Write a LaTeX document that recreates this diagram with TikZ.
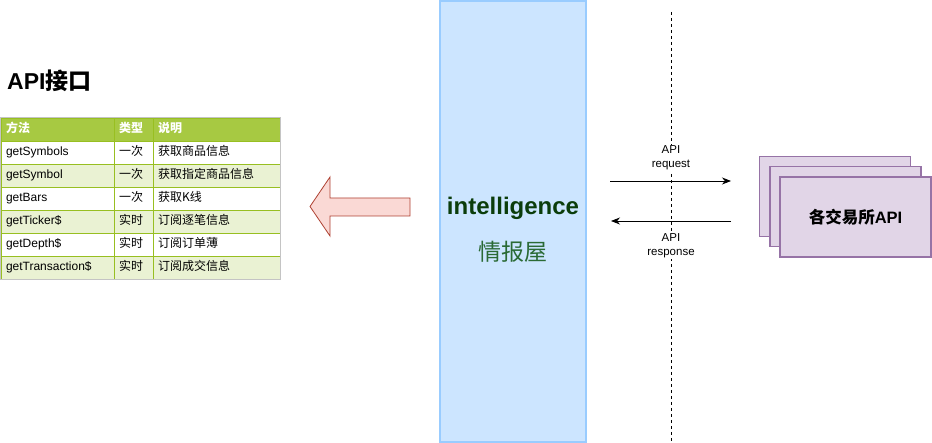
\documentclass[tikz,border=0pt]{standalone}
\usepackage{fontspec}
\setmainfont{Liberation Sans}
\newfontfamily\cjk{Noto Sans CJK SC}
\usepackage{tikz}
\usetikzlibrary{arrows.meta, positioning}

\definecolor{tabgreen}{HTML}{A7C942}
\definecolor{tabline}{HTML}{98BF21}
\definecolor{rowgreen}{HTML}{EAF2D3}
\definecolor{tabframe}{HTML}{C4C4C4}
\definecolor{arrowfill}{HTML}{FAD9D5}
\definecolor{arrowline}{HTML}{AE4132}
\definecolor{intelfill}{HTML}{CCE5FF}
\definecolor{intelline}{HTML}{99CCFF}
\definecolor{intelgreen}{HTML}{0B3D0B}
\definecolor{intelcn}{HTML}{2A6A35}
\definecolor{apifill}{HTML}{E1D5E7}
\definecolor{apiline}{HTML}{9673A6}

\tikzstyle{cell} = [rectangle, draw=tabline, line width=0.8pt, outer sep=0pt, minimum height=23pt, inner xsep=5pt, inner ysep=0pt, text height=9pt, text depth=3pt, align=left, font=\fontsize{12}{14}\selectfont]
\tikzstyle{cola} = [cell, text width=103pt]
\tikzstyle{colb} = [cell, text width=29pt]
\tikzstyle{colc} = [cell, text width=117pt]
\tikzstyle{headrow} = [fill=tabgreen, text=white, font=\fontsize{12}{14}\selectfont\bfseries]
\tikzstyle{oddrow} = [fill=white]
\tikzstyle{evenrow} = [fill=rowgreen]
\tikzstyle{msg} = [line width=0.8pt, -{Stealth[length=9pt, width=7pt]}]
\tikzstyle{msglabel} = [fill=white, inner sep=1pt, align=center, font=\fontsize{11.5}{14}\selectfont]
\tikzstyle{exchange} = [rectangle, draw=apiline, fill=apifill, line width=1.8pt, minimum width=151pt, minimum height=80pt]

\begin{document}
\begin{tikzpicture}[x=1pt, y=-1pt]

    \useasboundingbox (0,0) rectangle (932,443);

    % Title
    \node (api_title) [anchor=west, inner sep=0pt, font=\fontsize{23}{26}\selectfont\bfseries] at (7,81) {API{\cjk 接口}};

    % Table header
    \node (h_method) [cola, headrow, anchor=north west] at (1,118) {{\cjk 方法}};
    \node (h_type) [colb, headrow, right=0pt of h_method] {{\cjk 类型}};
    \node (h_desc) [colc, headrow, right=0pt of h_type] {{\cjk 说明}};

    % Table rows
    \node (m_symbols) [cola, oddrow, below=0pt of h_method] {getSymbols};
    \node (t_symbols) [colb, oddrow, right=0pt of m_symbols] {{\cjk 一次}};
    \node (d_symbols) [colc, oddrow, right=0pt of t_symbols] {{\cjk 获取商品信息}};

    \node (m_symbol) [cola, evenrow, below=0pt of m_symbols] {getSymbol};
    \node (t_symbol) [colb, evenrow, right=0pt of m_symbol] {{\cjk 一次}};
    \node (d_symbol) [colc, evenrow, right=0pt of t_symbol] {{\cjk 获取指定商品信息}};

    \node (m_bars) [cola, oddrow, below=0pt of m_symbol] {getBars};
    \node (t_bars) [colb, oddrow, right=0pt of m_bars] {{\cjk 一次}};
    \node (d_bars) [colc, oddrow, right=0pt of t_bars] {{\cjk 获取K线}};

    \node (m_ticker) [cola, evenrow, below=0pt of m_bars] {getTicker\$};
    \node (t_ticker) [colb, evenrow, right=0pt of m_ticker] {{\cjk 实时}};
    \node (d_ticker) [colc, evenrow, right=0pt of t_ticker] {{\cjk 订阅逐笔信息}};

    \node (m_depth) [cola, oddrow, below=0pt of m_ticker] {getDepth\$};
    \node (t_depth) [colb, oddrow, right=0pt of m_depth] {{\cjk 实时}};
    \node (d_depth) [colc, oddrow, right=0pt of t_depth] {{\cjk 订阅订单薄}};

    \node (m_trans) [cola, evenrow, below=0pt of m_depth] {getTransaction\$};
    \node (t_trans) [colb, evenrow, right=0pt of m_trans] {{\cjk 实时}};
    \node (d_trans) [colc, evenrow, right=0pt of t_trans] {{\cjk 订阅成交信息}};

    \draw [tabframe, line width=0.8pt] ([xshift=-0.8pt, yshift=0.8pt]h_method.north west) rectangle ([xshift=0.8pt, yshift=-0.8pt]d_trans.south east);

    % Big arrow
    \draw [arrowline, fill=arrowfill, line width=0.8pt] (410,198) -- (330,198) -- (330,177) -- (310,206.5) -- (330,236) -- (330,216) -- (410,216) -- cycle;

    % intelligence
    \node (intel) [rectangle, draw=intelline, fill=intelfill, line width=1.2pt, minimum width=146pt, minimum height=441pt] at (513,221.5) {};
    \node (intel_en) [text=intelgreen, font=\fontsize{24}{28}\selectfont\bfseries] at (513,208) {intelligence};
    \node (intel_cn) [text=intelcn, font=\fontsize{23}{26}\selectfont\cjk] at (513,252) {情报屋};

    % Exchanges
    \node (ex3) [exchange] at (835,196.5) {};
    \node (ex2) [exchange] at (845.5,206.5) {};
    \node (ex1) [exchange, font=\fontsize{16.5}{20}\selectfont\bfseries] at (855.5,217) {{\cjk 各交易所}API};

    % ==== Arrows
    \coordinate (bus_top) at (671,12);
    \coordinate (bus_bot) at (671,443);
    \draw [line width=0.8pt, dash pattern=on 3pt off 3pt] (bus_top) -- (bus_bot);

    \coordinate (req_from) at (610,181);
    \coordinate (req_to) at (731,181);
    \coordinate (resp_from) at (731,221);
    \coordinate (resp_to) at (611,221);
    \draw [msg] (req_from) -- (req_to);
    \draw [msg] (resp_from) -- (resp_to);

    \node (req_label) [msglabel] at (671,158) {API\\request};
    \node (resp_label) [msglabel] at (671,246) {API\\response};

\end{tikzpicture}
\end{document}
